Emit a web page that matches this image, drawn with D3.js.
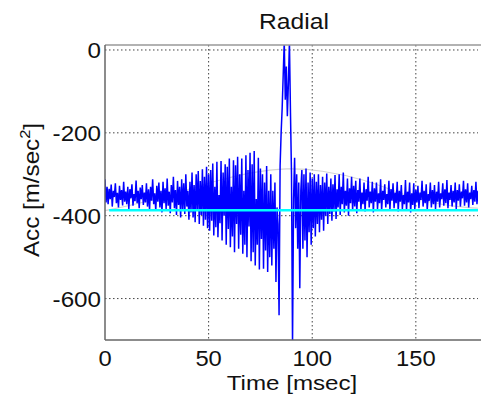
<!DOCTYPE html>
<html>
<head>
    <title>Radial</title>
    <script src="https://cdn.jsdelivr.net/npm/d3@7"></script>
    <style>
        body { margin: 0; background: #fff; }
        text { font-family: "Liberation Sans", Arial, sans-serif; fill: #111; }
    </style>
</head>
<body>
    <svg width="481" height="400" id="mainsvg"></svg>
    <script>
        // sample spacing of the acceleration record, msec
        const sampleStep = 0.5;
        // radial acceleration samples, m/sec^2
        const accValues = [
            -312, -368, -330, -372, -335, -360, -325, -378, -340, -355, -322, -370, -345, -380, -328, -362, -338, -375, -318, -366, -342,
            -372, -330, -384, -336, -358, -324, -376, -348, -365, -315, -370, -340, -382, -332, -360, -326, -374, -344, -368, -322,
            -378, -336, -386, -330, -364, -312, -372, -346, -388, -328, -366, -320, -380, -340, -392, -318, -370, -334, -384, -310,
            -376, -342, -394, -326, -368, -306, -382, -338, -398, -316, -374, -330, -404, -312, -386, -322, -396, -300, -378, -340,
            -410, -318, -392, -296, -404, -326, -416, -300, -388, -292, -420, -316, -398, -288, -424, -306, -410, -282, -430, -300,
            -436, -290, -412, -274, -448, -330, -428, -270, -452, -350, -418, -268, -460, -296, -400, -276, -470, -282, -432, -262,
            -476, -330, -450, -266, -488, -278, -420, -258, -480, -300, -446, -262, -492, -340, -470, -254, -500, -290, -426, -248,
            -510, -276, -488, -244, -520, -360, -470, -260, -530, -286, -456, -300, -528, -320, -484, -280, -536, -340, -500, -300,
            -520, -340, -480, -320, -560, -380, -420, -640, -280, -200,
            -140, -60, 20, -120, -40, -160, -80, 20, -150, -300,
            -710, -360, -260, -430, -300, -480, -320, -575, -340, -290,
            -480, -300, -460, -286, -500, -320, -440, -296, -470, -310, -430, -300, -450, -318, -420, -300, -440, -326, -410, -306,
            -436, -320, -400, -298, -420, -330, -396, -310, -412, -324,
            -390, -302, -408, -336, -380, -300, -398, -330, -372, -296, -392, -340, -376, -310, -400, -334, -370, -306, -388, -328,
            -378, -316, -394, -338, -366, -310, -386, -344, -372, -320, -390, -336, -364, -306, -380, -342, -370, -318, -392, -334,
            -366, -320, -384, -346, -370, -312, -388, -340, -362, -324, -380, -348, -372, -316, -386, -336, -364, -322, -382, -344,
            -370, -318, -390, -340, -366, -326, -384, -350, -372, -314, -388, -342, -368, -320, -392, -346, -374, -322, -386, -338,
            -368, -328, -382, -344, -362, -316, -378, -340, -370, -324, -386, -348, -364, -320, -380, -338, -372, -326, -384, -342,
            -366, -318, -380, -346, -360, -322, -376, -336, -370, -314, -382, -344, -362, -326, -378, -340, -368, -320, -384, -338,
            -364, -324, -378, -342, -358, -316, -376, -336, -368, -322, -380, -344, -360, -328, -374, -338, -366, -318, -372, -340
        ];
        // light grey smooth trend curve
        const trendTimes = [0, 18, 35, 51, 56, 70, 88, 104, 125, 142, 151, 162, 176, 180];
        const trendValues = [-388, -369, -345, -320, -313, -296, -284, -290, -312, -345, -361, -373, -381, -382];
        // cyan reference level
        const refTimes = [2, 180];
        const refLevel = -387;

        const xTicks = [0, 50, 100, 150];
        const yTicks = [0, -200, -400, -600];

        const svg = d3.select('svg');
        const margin = { top: 45, right: 3, bottom: 60, left: 105 };
        const width = +svg.attr('width');
        const height = +svg.attr('height');

        const x = d3.scaleLinear().domain([0, 180]).range([margin.left, width - margin.right]);
        const y = d3.scaleLinear().domain([-700, 12]).range([height - margin.bottom, margin.top]);

        svg.append('clipPath').attr('id', 'plotclip')
            .append('rect')
            .attr('x', x(0)).attr('y', y(12))
            .attr('width', x(180) - x(0)).attr('height', y(-700) - y(12));

        // grid
        const grid = svg.append('g').attr('stroke', '#444').attr('stroke-width', 1).attr('stroke-dasharray', '1.5,2.5');
        grid.selectAll('.gx').data(xTicks.slice(1)).join('line')
            .attr('x1', d => x(d)).attr('x2', d => x(d))
            .attr('y1', y(12)).attr('y2', y(-700));
        grid.selectAll('.gy').data(yTicks).join('line')
            .attr('x1', x(0)).attr('x2', x(180))
            .attr('y1', d => y(d)).attr('y2', d => y(d));

        const plot = svg.append('g').attr('clip-path', 'url(#plotclip)');

        // grey trend
        plot.append('path')
            .datum(trendTimes.map((t, i) => [t, trendValues[i]]))
            .attr('fill', 'none').attr('stroke', '#d4d4d4').attr('stroke-width', 1.2)
            .attr('d', d3.line().x(d => x(d[0])).y(d => y(d[1])).curve(d3.curveBasis));

        // acceleration trace
        plot.append('path')
            .datum(accValues.map((v, i) => [i * sampleStep, v]))
            .attr('fill', 'none').attr('stroke', '#0000ff').attr('stroke-width', 1.5)
            .attr('d', d3.line().x(d => x(d[0])).y(d => y(d[1])));

        // cyan level
        plot.append('line')
            .attr('x1', x(refTimes[0])).attr('x2', x(refTimes[1]))
            .attr('y1', y(refLevel)).attr('y2', y(refLevel))
            .attr('stroke', '#00ffff').attr('stroke-width', 2.5);

        // frame
        svg.append('line').attr('x1', x(0)).attr('x2', width).attr('y1', y(12)).attr('y2', y(12))
            .attr('stroke', '#999').attr('stroke-width', 1.5);
        svg.append('line').attr('x1', x(0)).attr('x2', x(0)).attr('y1', y(12)).attr('y2', y(-700))
            .attr('stroke', '#666').attr('stroke-width', 1.5);
        svg.append('line').attr('x1', x(0)).attr('x2', width).attr('y1', y(-700)).attr('y2', y(-700))
            .attr('stroke', '#666').attr('stroke-width', 1.5);

        // tick labels
        svg.selectAll('.xt').data(xTicks).join('text')
            .attr('text-anchor', 'middle').attr('font-size', 22)
            .attr('transform', d => `translate(${x(d)},${y(-700) + 26}) scale(1.08,1)`)
            .text(d => d);
        svg.selectAll('.yt').data(yTicks).join('text')
            .attr('text-anchor', 'end').attr('font-size', 22)
            .attr('transform', d => `translate(${x(0) - 4},${y(d) + 8}) scale(1.1,1)`)
            .text(d => d);

        // titles
        svg.append('text').attr('text-anchor', 'middle').attr('font-size', 22)
            .attr('transform', `translate(294,29) scale(1.12,1)`)
            .text('Radial');
        svg.append('text').attr('text-anchor', 'middle').attr('font-size', 21)
            .attr('transform', `translate(292,390) scale(1.15,1)`)
            .text('Time [msec]');
        const yl = svg.append('text').attr('text-anchor', 'middle').attr('font-size', 22)
            .attr('transform', `translate(39,190) rotate(-90) scale(1.1,1)`);
        yl.append('tspan').text('Acc [m/sec');
        yl.append('tspan').attr('font-size', 15).attr('dy', -9).text('2');
        yl.append('tspan').attr('dy', 9).text(']');
    </script>
</body>
</html>
